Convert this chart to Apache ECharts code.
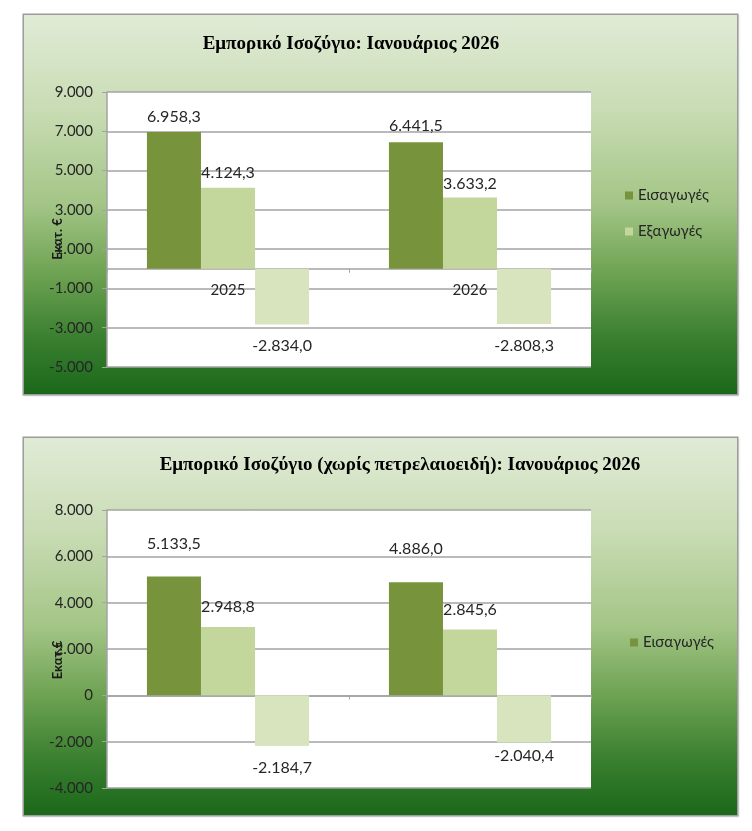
<!DOCTYPE html>
<html>
<head>
<meta charset="utf-8">
<script src="https://cdn.jsdelivr.net/npm/echarts@6/dist/echarts.min.js"></script>
<style>
  html, body { margin: 0; padding: 0; background: #ffffff; width: 752px; height: 831px; overflow: hidden; }
  .panel {
    position: absolute;
    left: 24px;
    width: 713px;
    box-shadow: 0 0 0 1.5px #9c9c9c, 1px 1px 2px 1px rgba(0,0,0,0.15);
    background: linear-gradient(to bottom, #e0ebd6 0%, #c9dcb4 25%, #a3c586 50%, #6ea353 68%, #3a8030 85%, #1b681a 100%);
  }
  #p1 { top: 15px; height: 379px; }
  #p2 { top: 438px; height: 377px; }
</style>
</head>
<body>
<div id="p1" class="panel"></div>
<div id="p2" class="panel"></div>
<script>
// ---------- data ----------
const categories = ['2025', '2026'];
const seriesNames = ['Εισαγωγές', 'Εξαγωγές', 'Ισοζύγιο'];

// Chart 1: Εμπορικό Ισοζύγιο
const title1 = 'Εμπορικό Ισοζύγιο: Ιανουάριος 2026';
const imports1 = [6958.3, 6441.5];
const exports1 = [4124.3, 3633.2];
const balance1 = [-2834.0, -2808.3];
const yTicks1 = [-5000, -3000, -1000, 1000, 3000, 5000, 7000, 9000];
const yName1 = 'Εκατ. €';

// Chart 2: Εμπορικό Ισοζύγιο (χωρίς πετρελαιοειδή)
const title2 = 'Εμπορικό Ισοζύγιο (χωρίς πετρελαιοειδή): Ιανουάριος 2026';
const imports2 = [5133.5, 4886.0];
const exports2 = [2948.8, 2845.6];
const balance2 = [-2184.7, -2040.4];
const yTicks2 = [-4000, -2000, 0, 2000, 4000, 6000, 8000];
const yName2 = 'Εκατ.€';

// ---------- helpers ----------
function gr(v, d) {
  const s = Math.abs(v).toFixed(d);
  const parts = s.split('.');
  const i = parts[0].replace(/\B(?=(\d{3})+(?!\d))/g, '.');
  return (v < 0 ? '-' : '') + i + (parts[1] ? ',' + parts[1] : '');
}

const SANS = 'Lato, "Noto Sans", "Open Sans", sans-serif';
const SERIF = '"Liberation Serif", "DejaVu Serif", serif';
const COLORS = ['#77933c', '#c3d69b', '#d7e4bd'];
const GRIDC = '#a3a3a3';

function makeOption(cfg) {
  const ticks = cfg.ticks;
  const step = ticks[1] - ticks[0];
  function bar(name, data, color, pos, dist) {
    return {
      name: name,
      type: 'bar',
      barGap: '0%',
      barCategoryGap: '33%',
      itemStyle: { color: color },
      data: data.map(function (v, i) {
        return { value: v, label: { distance: dist[i] } };
      }),
      label: {
        show: true,
        position: pos,
        color: '#262626',
        fontFamily: SANS,
        fontSize: 16,
        formatter: function (p) { return gr(p.value, 1); }
      }
    };
  }
  return {
    animation: false,
    title: {
      text: cfg.title,
      left: cfg.titleX,
      top: cfg.titleY,
      textAlign: 'center',
      padding: 0,
      textStyle: { fontFamily: SERIF, fontWeight: 'bold', fontSize: 19, color: '#000' }
    },
    legend: {
      orient: 'vertical',
      left: cfg.legendX,
      top: cfg.legendY,
      padding: 0,
      itemGap: 21,
      itemWidth: 8,
      itemHeight: 8,
      icon: 'rect',
      data: cfg.legendData,
      textStyle: { fontFamily: SANS, fontSize: 15, color: '#262626', lineHeight: 14 }
    },
    grid: {
      left: 83, top: cfg.gridTop, width: 484, height: cfg.gridH,
      show: true, backgroundColor: '#ffffff', borderWidth: 0
    },
    xAxis: {
      type: 'category',
      data: categories,
      axisLine: { onZero: true, lineStyle: { color: GRIDC, width: 1.5 } },
      axisTick: { show: true, inside: false, length: 4, lineStyle: { color: GRIDC } },
      axisLabel: {
        show: cfg.showCat, margin: cfg.catMargin, color: '#262626', fontFamily: SANS, fontSize: 15
      }
    },
    yAxis: {
      type: 'value',
      min: ticks[0],
      max: ticks[ticks.length - 1],
      interval: step,
      name: cfg.yName,
      nameLocation: 'middle',
      nameGap: 43,
      nameRotate: 90,
      nameMoveOverlap: false,
      nameTextStyle: {
        fontFamily: SANS, fontWeight: 'bold', fontSize: 13, color: '#1a1a1a',
        padding: [0, cfg.namePad, 0, 0]
      },
      axisLine: { show: true, lineStyle: { color: GRIDC, width: 1.5 } },
      axisTick: { show: true, inside: false, length: 5, lineStyle: { color: GRIDC } },
      splitLine: { show: true, lineStyle: { color: GRIDC, width: 1.5 } },
      axisLabel: {
        margin: 14, color: '#262626', fontFamily: SANS, fontSize: 15,
        formatter: function (v) { return gr(v, 0); }
      }
    },
    series: [
      bar(seriesNames[0], cfg.imp, COLORS[0], 'top', cfg.dImp),
      bar(seriesNames[1], cfg.exp, COLORS[1], 'top', cfg.dExp),
      bar(seriesNames[2], cfg.bal, COLORS[2], 'bottom', cfg.dBal)
    ]
  };
}

const c1 = echarts.init(document.getElementById('p1'), null, { renderer: 'canvas' });
c1.setOption(makeOption({
  title: title1, titleX: 327, titleY: 20,
  legendX: 601, legendY: 173, legendData: [seriesNames[0], seriesNames[1]],
  gridTop: 77, gridH: 275, ticks: yTicks1, yName: yName1, showCat: true, catMargin: -84, namePad: 19,
  imp: imports1, exp: exports1, bal: balance1,
  dImp: [7, 8], dExp: [7, 6], dBal: [13, 14]
}));

const c2 = echarts.init(document.getElementById('p2'), null, { renderer: 'canvas' });
c2.setOption(makeOption({
  title: title2, titleX: 376, titleY: 18,
  legendX: 606, legendY: 197, legendData: [seriesNames[0]],
  gridTop: 72, gridH: 278, ticks: yTicks2, yName: yName2, showCat: false, catMargin: 15, namePad: 22,
  imp: imports2, exp: exports2, bal: balance2,
  dImp: [25, 25], dExp: [12, 12], dBal: [14, 5]
}));
</script>
</body>
</html>
